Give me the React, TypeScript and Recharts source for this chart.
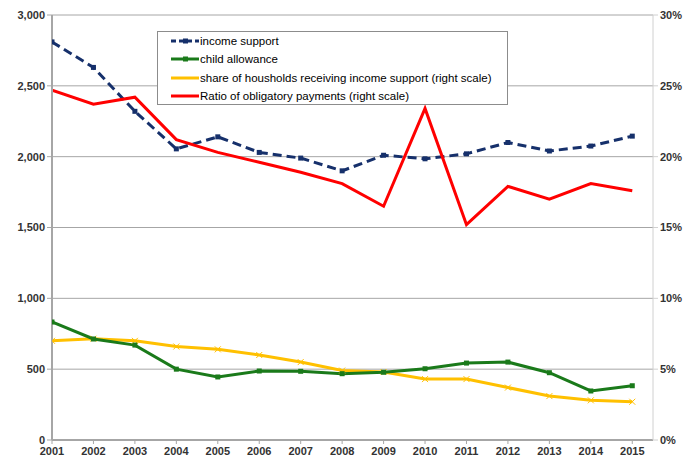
import React from "react";
import { LineChart, Line, XAxis, YAxis, CartesianGrid } from "recharts";

const years = [2001, 2002, 2003, 2004, 2005, 2006, 2007, 2008, 2009, 2010, 2011, 2012, 2013, 2014, 2015];
const incomeSupport = [2810, 2630, 2320, 2055, 2140, 2030, 1990, 1900, 2010, 1985, 2020, 2100, 2040, 2075, 2145];
const childAllowance = [833, 713, 670, 500, 445, 487, 485, 468, 478, 503, 543, 550, 475, 346, 383];
const shareHouseholds = [7.0, 7.15, 7.0, 6.6, 6.4, 6.0, 5.5, 4.9, 4.8, 4.3, 4.3, 3.7, 3.1, 2.8, 2.7];
const ratioObligatory = [24.7, 23.7, 24.2, 21.2, 20.3, 19.6, 18.9, 18.1, 16.5, 23.4, 15.2, 17.9, 17.0, 18.1, 17.6];
const leftTicks = [0, 500, 1000, 1500, 2000, 2500, 3000];
const rightTicks = [0, 5, 10, 15, 20, 25, 30];

const seriesNames = [
  "income support",
  "child allowance",
  "share of housholds receiving income support (right scale)",
  "Ratio of obligatory payments (right scale)",
];

const data = years.map((y, i) => ({
  year: y,
  inc: incomeSupport[i],
  child: childAllowance[i],
  share: shareHouseholds[i],
  ratio: ratioObligatory[i],
}));

const NAVY = "#16306b";
const GREEN = "#1a7a1a";
const YELLOW = "#ffc000";
const RED = "#ff0000";

const SquareDot = (color: string) => (props: any) => {
  const { cx, cy, index } = props;
  if (cx == null || cy == null) return <g key={index} />;
  return <rect key={index} x={cx - 2.5} y={cy - 2.5} width={5} height={5} fill={color} />;
};

const CrossDot = (props: any) => {
  const { cx, cy, index } = props;
  if (cx == null || cy == null) return <g key={index} />;
  return (
    <g key={index} stroke={YELLOW} strokeWidth={1}>
      <line x1={cx - 3} y1={cy - 3} x2={cx + 3} y2={cy + 3} />
      <line x1={cx - 3} y1={cy + 3} x2={cx + 3} y2={cy - 3} />
    </g>
  );
};

const fmtThousands = (v: number) => v.toLocaleString("en-US");

const LegendBox = () => {
  const items = [
    { color: NAVY, dash: "5 3", marker: "sq" },
    { color: GREEN, dash: undefined, marker: "sq" },
    { color: YELLOW, dash: undefined, marker: "x" },
    { color: RED, dash: undefined, marker: "" },
  ];
  return (
    <div
      style={{
        position: "absolute",
        left: 157,
        top: 31,
        width: 351,
        height: 74,
        border: "1px solid #8c8c8c",
        background: "#fff",
        boxSizing: "border-box",
        paddingTop: 0,
        fontFamily: "'Liberation Sans', Arial, sans-serif",
        fontSize: 11.5,
        color: "#000",
      }}
    >
      {items.map((it, i) => (
        <div key={i} style={{ display: "flex", alignItems: "center", height: 18.3 }}>
          <svg width={42} height={10} style={{ display: "block" }}>
            <line x1={13} y1={5} x2={41} y2={5} stroke={it.color} strokeWidth={3} strokeDasharray={it.dash} />
            {it.marker === "sq" && <rect x={25} y={2.5} width={5} height={5} fill={it.color} />}
          </svg>
          <span>{seriesNames[i]}</span>
        </div>
      ))}
    </div>
  );
};

const tickStyle = {
  fontFamily: "'Liberation Sans', Arial, sans-serif",
  fontSize: 11,
  fontWeight: 700,
  fill: "#333",
};

export default function App() {
  return (
    <div style={{ position: "absolute", left: 0, top: 0, width: 686, height: 461, background: "#fff" }}>
      <LineChart width={686} height={461} data={data} margin={{ top: 15, right: 0, bottom: 0, left: 0 }}>
        <CartesianGrid vertical={false} stroke="#a6a6a6" strokeWidth={1} yAxisId="left" />
        <XAxis
          dataKey="year"
          type="number"
          domain={[2001, 2015.5]}
          allowDataOverflow={true}
          ticks={years}
          height={21}
          tick={tickStyle}
          tickLine={{ stroke: "#a6a6a6" }}
          axisLine={{ stroke: "#a6a6a6", strokeWidth: 2 }}
          tickSize={4}
          tickMargin={3}
          interval={0}
        />
        <YAxis
          yAxisId="left"
          orientation="left"
          width={52}
          domain={[0, 3000]}
          ticks={leftTicks}
          tickFormatter={fmtThousands}
          tick={tickStyle}
          tickLine={{ stroke: "#a6a6a6" }}
          axisLine={{ stroke: "#a6a6a6", strokeWidth: 2 }}
          tickSize={5}
          tickMargin={2}
        />
        <YAxis
          yAxisId="right"
          orientation="right"
          width={33}
          domain={[0, 30]}
          ticks={rightTicks}
          tickFormatter={(v: number) => `${v}%`}
          tick={tickStyle}
          tickLine={{ stroke: "#d0d0d0" }}
          axisLine={{ stroke: "#d0d0d0", strokeWidth: 1 }}
          tickSize={5}
          tickMargin={2}
        />
        <Line
          yAxisId="right"
          dataKey="share"
          stroke={YELLOW}
          strokeWidth={3}
          dot={CrossDot}
          isAnimationActive={false}
        />
        <Line
          yAxisId="left"
          dataKey="child"
          stroke={GREEN}
          strokeWidth={3}
          dot={SquareDot(GREEN)}
          isAnimationActive={false}
        />
        <Line
          yAxisId="left"
          dataKey="inc"
          stroke={NAVY}
          strokeWidth={3}
          strokeDasharray="9 5"
          dot={SquareDot(NAVY)}
          isAnimationActive={false}
        />
        <Line
          yAxisId="right"
          dataKey="ratio"
          stroke={RED}
          strokeWidth={3}
          dot={false}
          isAnimationActive={false}
        />
      </LineChart>
      <LegendBox />
    </div>
  );
}
